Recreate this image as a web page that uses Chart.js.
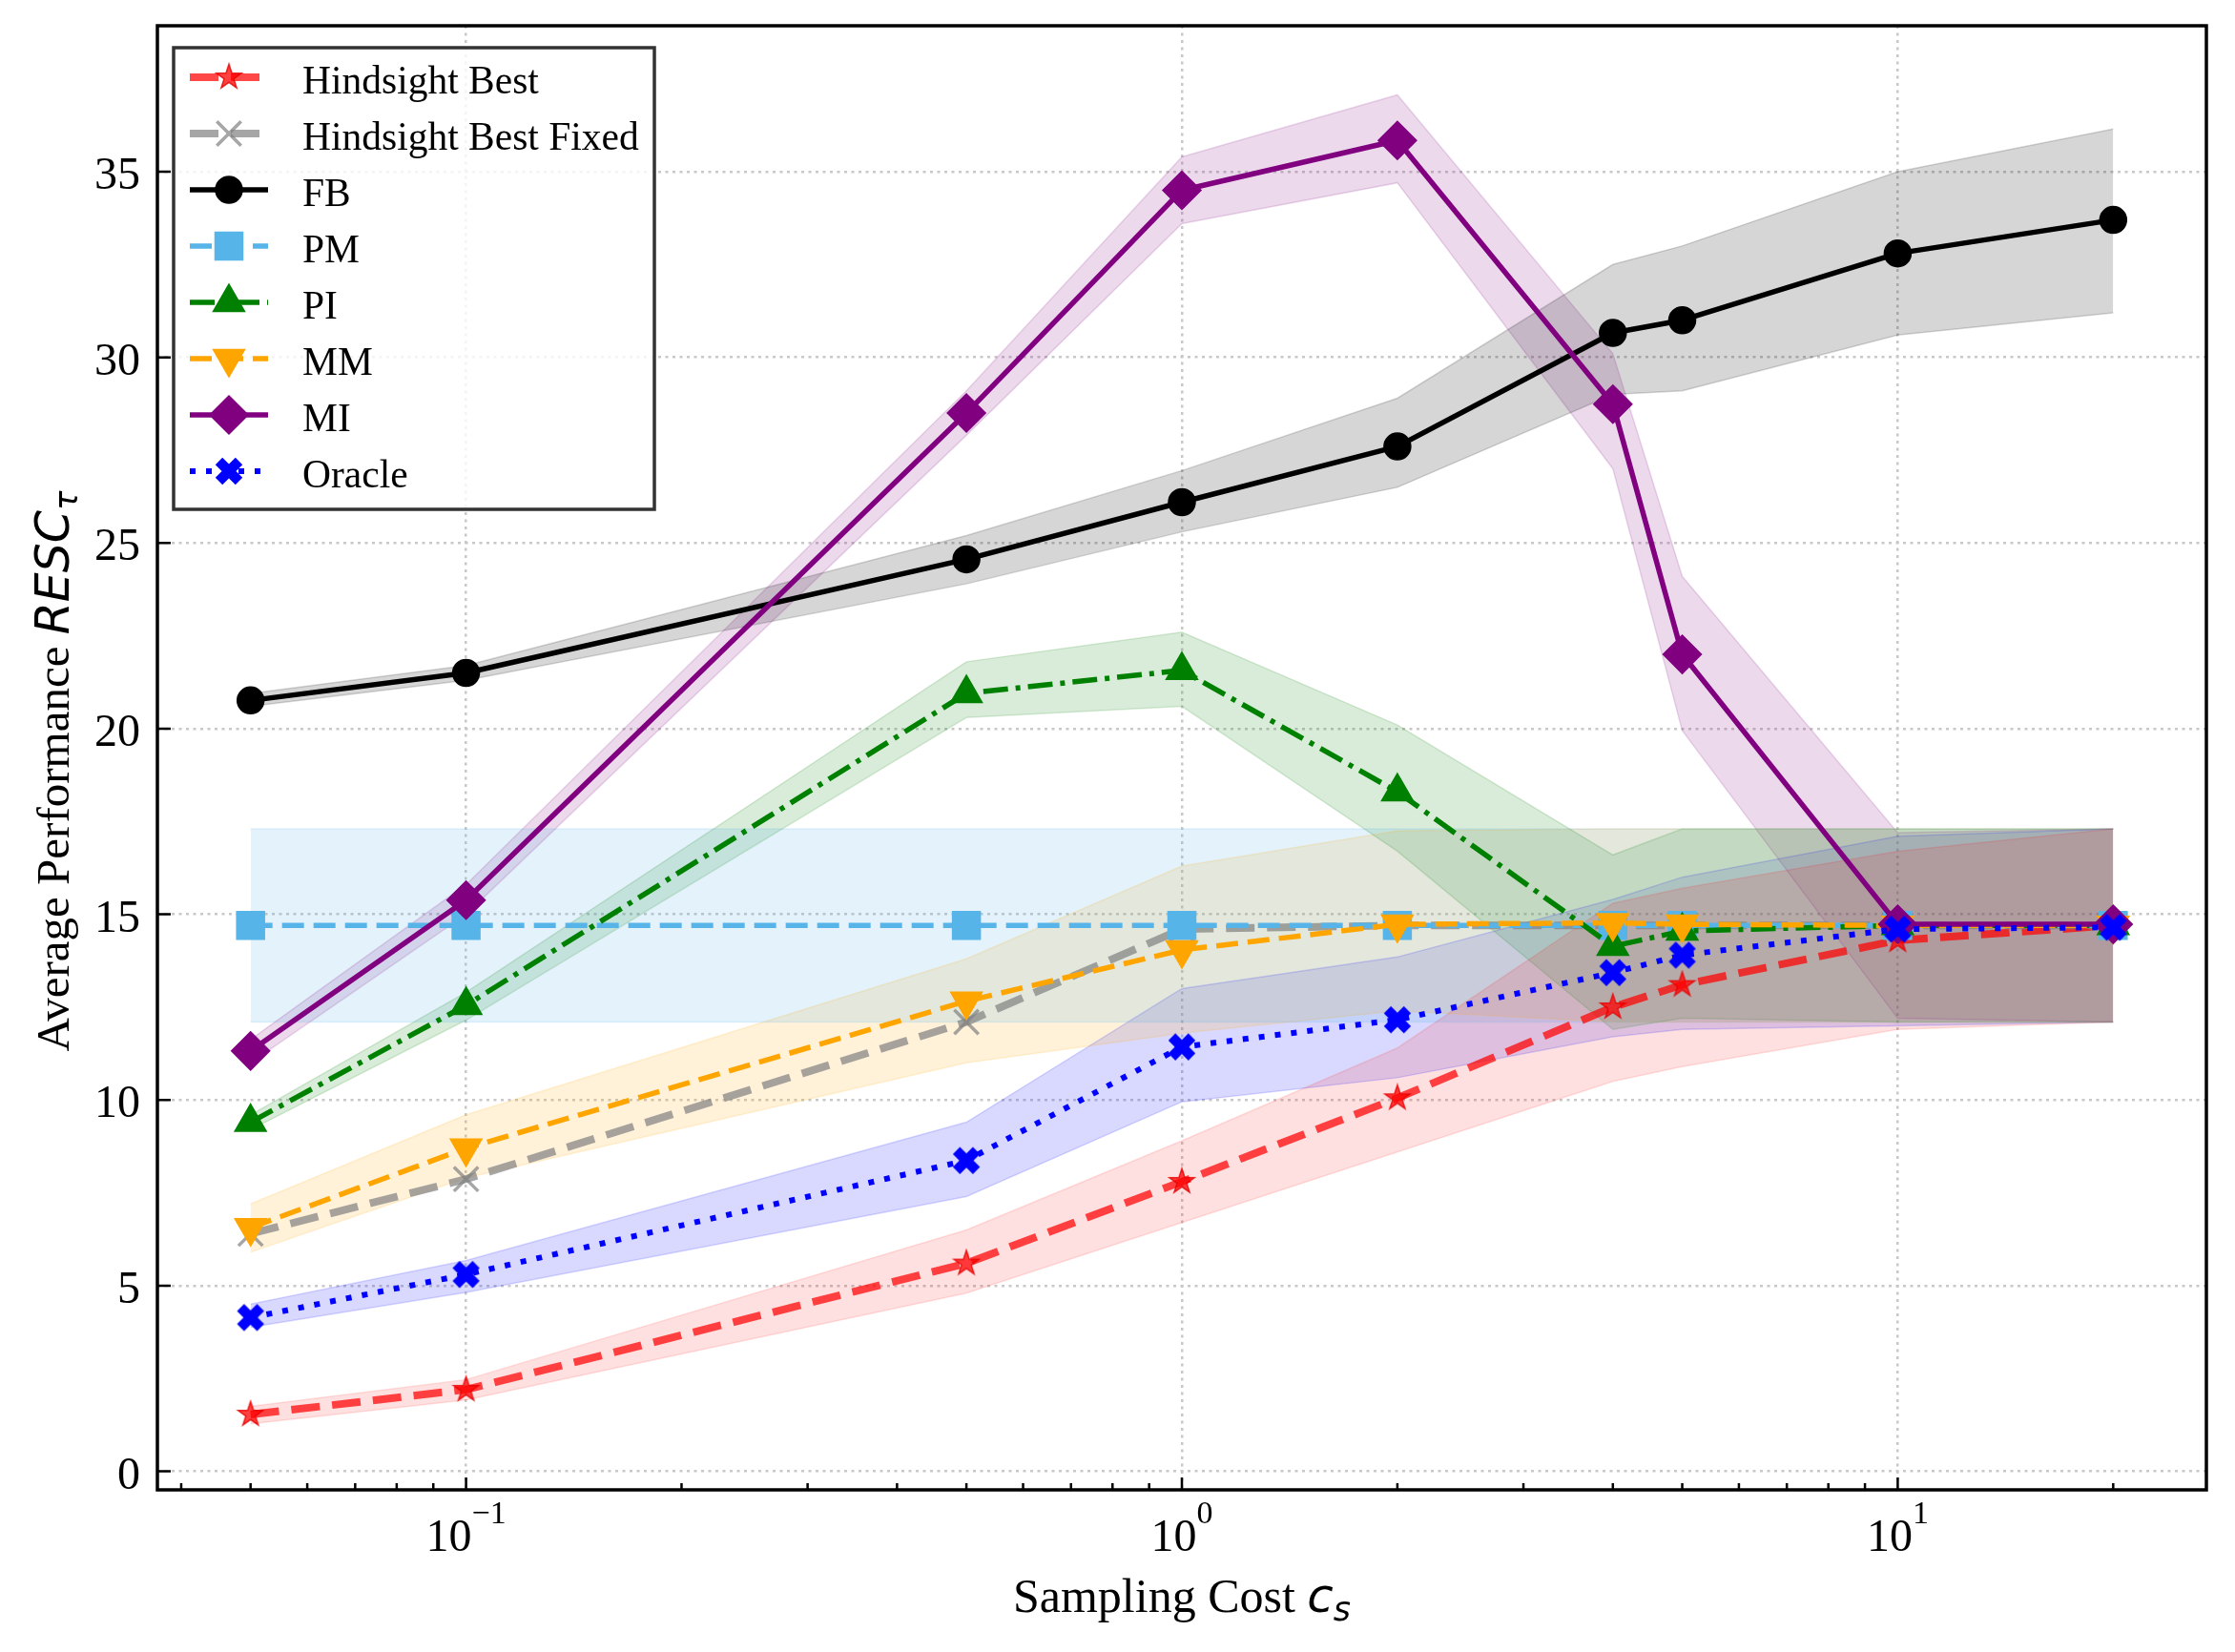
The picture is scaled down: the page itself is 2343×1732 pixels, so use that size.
<!DOCTYPE html>
<html>
<head>
<meta charset="utf-8">
<script src="https://cdn.jsdelivr.net/npm/chart.js@4.4.1/dist/chart.umd.min.js"></script>
<style>
  html, body { margin: 0; padding: 0; background: #fff; }
  canvas { display: block; }
</style>
</head>
<body>
<canvas id="perf-chart" width="2343" height="1732"></canvas>
<script>
// sampling costs (x)
const costs = [0.05, 0.1, 0.5, 1, 2, 4, 5, 10, 20];

// mean values and shaded bands
const hbMean = [1.53, 2.2, 5.6, 7.8, 10.05, 12.5, 13.1, 14.3, 14.7];
const hbLow  = [1.28, 1.92, 4.8, 6.7, 8.6, 10.5, 10.9, 11.9, 12.1];
const hbHigh = [1.75, 2.47, 6.5, 8.9, 11.4, 15.3, 15.7, 16.7, 17.3];

const hbFixedMean = [6.4, 7.87, 12.1, 14.6, 14.7, 14.7, 14.7, 14.7, 14.7];

const fbMean = [20.76, 21.5, 24.56, 26.1, 27.6, 30.66, 31.0, 32.8, 33.7];
const fbLow  = [20.6, 21.3, 23.9, 25.3, 26.5, 29.0, 29.1, 30.6, 31.2];
const fbHigh = [20.95, 21.7, 25.2, 26.95, 28.9, 32.5, 33.0, 35.0, 36.15];

const pmMean = [14.7, 14.7, 14.7, 14.7, 14.7, 14.7, 14.7, 14.7, 14.7];
const pmLow  = [12.1, 12.1, 12.1, 12.1, 12.1, 12.1, 12.1, 12.1, 12.1];
const pmHigh = [17.3, 17.3, 17.3, 17.3, 17.3, 17.3, 17.3, 17.3, 17.3];

const piMean = [9.4, 12.55, 20.95, 21.57, 18.3, 14.14, 14.55, 14.7, 14.7];
const piLow  = [9.2, 12.15, 20.3, 20.6, 16.7, 11.9, 12.2, 12.1, 12.1];
const piHigh = [9.6, 12.9, 21.8, 22.6, 20.1, 16.6, 17.3, 17.3, 17.3];

const mmMean = [6.56, 8.7, 12.66, 14.04, 14.73, 14.77, 14.73, 14.7, 14.7];
const mmLow  = [5.9, 7.9, 11.0, 11.8, 12.4, 12.1, 12.1, 12.1, 12.1];
const mmHigh = [7.2, 9.6, 13.8, 16.3, 17.25, 17.3, 17.3, 17.3, 17.3];

const miMean = [11.32, 15.38, 28.5, 34.5, 35.84, 28.74, 22.0, 14.73, 14.73];
const miLow  = [11.0, 15.0, 27.9, 33.6, 34.7, 27.0, 19.95, 12.2, 12.1];
const miHigh = [11.63, 15.8, 29.1, 35.4, 37.07, 30.1, 24.1, 17.2, 17.3];

const oracleMean = [4.14, 5.3, 8.37, 11.43, 12.16, 13.43, 13.9, 14.6, 14.65];
const oracleLow  = [3.88, 4.82, 7.4, 9.95, 10.6, 11.7, 11.9, 12.0, 12.1];
const oracleHigh = [4.5, 5.68, 9.4, 13.0, 13.85, 15.4, 16.0, 17.1, 17.3];

// axis ticks
const xMajorTicks = [0.1, 1, 10];
const xMinorTicks = [0.04, 0.05, 0.06, 0.07, 0.08, 0.09, 0.2, 0.3, 0.4, 0.5, 0.6, 0.7, 0.8, 0.9,
                     2, 3, 4, 5, 6, 7, 8, 9, 20];
const xTickExponents = ['\u22121', '0', '1'];
const yTickValues = [0, 5, 10, 15, 20, 25, 30, 35];

const SERIF = '"Liberation Serif", "Times New Roman", serif';
const MATH = '"DejaVu Sans", sans-serif';

// custom marker images (filled star and filled X like matplotlib)
function starMarker(fill, edge) {
  const c = document.createElement('canvas');
  c.width = c.height = 32;
  const g = c.getContext('2d');
  g.translate(16, 16);
  g.beginPath();
  for (let i = 0; i < 10; i++) {
    const r = i % 2 ? 5.3 : 13.8;
    const a = -Math.PI / 2 + i * Math.PI / 5;
    g.lineTo(r * Math.cos(a), r * Math.sin(a));
  }
  g.closePath();
  g.fillStyle = fill;
  g.fill();
  g.lineWidth = 1.5;
  g.strokeStyle = edge;
  g.stroke();
  return c;
}

function xMarker(color) {
  const c = document.createElement('canvas');
  c.width = c.height = 34;
  const g = c.getContext('2d');
  g.translate(17, 17);
  g.strokeStyle = color;
  g.lineWidth = 10.5;
  g.beginPath();
  g.moveTo(-10.5, -10.5); g.lineTo(10.5, 10.5);
  g.moveTo(10.5, -10.5); g.lineTo(-10.5, 10.5);
  g.stroke();
  return c;
}

const series = [
  { label: 'Hindsight Best', mean: hbMean, low: hbLow, high: hbHigh,
    color: 'rgba(255,0,0,0.72)', band: 'rgba(255,0,0,0.12)', width: 8, dash: [30, 13],
    marker: starMarker('rgba(255,0,0,0.75)', 'rgba(230,0,0,0.8)'), radius: 14 },
  { label: 'Hindsight Best Fixed', mean: hbFixedMean,
    color: 'rgba(128,128,128,0.7)', width: 8, dash: [30, 13],
    marker: 'crossRot', radius: 18, markerWidth: 3.5 },
  { label: 'FB', mean: fbMean, low: fbLow, high: fbHigh,
    color: '#000000', band: 'rgba(0,0,0,0.16)', width: 5.5, dash: [],
    marker: 'circle', radius: 14 },
  { label: 'PM', mean: pmMean, low: pmLow, high: pmHigh,
    color: '#56B4E9', band: 'rgba(86,180,233,0.17)', width: 5.5, dash: [23, 10],
    marker: 'rect', radius: 20.5 },
  { label: 'PI', mean: piMean, low: piLow, high: piHigh,
    color: '#008000', band: 'rgba(0,128,0,0.15)', width: 5.5, dash: [26, 8, 5, 8],
    marker: 'triangle', radius: 19 },
  { label: 'MM', mean: mmMean, low: mmLow, high: mmHigh,
    color: '#FFA500', band: 'rgba(255,165,0,0.15)', width: 5.5, dash: [23, 10],
    marker: 'triangle', rotation: 180, radius: 19 },
  { label: 'MI', mean: miMean, low: miLow, high: miHigh,
    color: '#800080', band: 'rgba(128,0,128,0.15)', width: 5.5, dash: [],
    marker: 'rectRot', radius: 20 },
  { label: 'Oracle', mean: oracleMean, low: oracleLow, high: oracleHigh,
    color: '#0000FF', band: 'rgba(0,0,255,0.15)', width: 6, dash: [6, 11],
    marker: xMarker('#0000FF'), radius: 15 }
];

const toPoints = vals => costs.map((c, i) => ({ x: c, y: vals[i] }));

let datasets = [];
series.forEach((s, i) => {
  datasets.push({
    label: s.label,
    data: toPoints(s.mean),
    borderColor: s.color,
    borderWidth: s.width,
    borderDash: s.dash,
    borderJoinStyle: 'round',
    pointStyle: s.marker,
    pointRadius: s.radius,
    pointRotation: s.rotation || 0,
    pointBackgroundColor: s.color,
    pointBorderColor: s.color,
    pointBorderWidth: s.markerWidth || 1.5,
    fill: false,
    order: 20 - i
  });
  if (s.low) {
    const lowIdx = datasets.length;
    datasets.push({
      isBand: true,
      data: toPoints(s.low),
      borderColor: s.band,
      borderWidth: 1.5,
      pointRadius: 0,
      pointHitRadius: 0,
      fill: false,
      order: 50
    });
    datasets.push({
      isBand: true,
      data: toPoints(s.high),
      borderColor: s.band,
      backgroundColor: s.band,
      borderWidth: 1.5,
      pointRadius: 0,
      pointHitRadius: 0,
      fill: { target: lowIdx },
      order: 50
    });
  }
});

function drawParts(ctx, parts, x, y) {
  let total = 0;
  parts.forEach(p => { ctx.font = p.font; p.w = ctx.measureText(p.text).width; total += p.w; });
  let cx = x - total / 2;
  parts.forEach(p => {
    ctx.font = p.font;
    ctx.fillText(p.text, cx, y + (p.dy || 0));
    cx += p.w;
  });
}

const decorations = {
  id: 'decorations',
  afterDraw(chart) {
    const { ctx, chartArea: a } = chart;
    const xs = chart.scales.x, ys = chart.scales.y;
    ctx.save();

    // inward ticks
    ctx.strokeStyle = '#000';
    ctx.lineWidth = 2.5;
    ctx.beginPath();
    yTickValues.forEach(v => {
      const py = ys.getPixelForValue(v);
      ctx.moveTo(a.left, py); ctx.lineTo(a.left + 14, py);
    });
    xMajorTicks.forEach(v => {
      const px = xs.getPixelForValue(v);
      ctx.moveTo(px, a.bottom); ctx.lineTo(px, a.bottom - 13);
    });
    xMinorTicks.forEach(v => {
      const px = xs.getPixelForValue(v);
      ctx.moveTo(px, a.bottom); ctx.lineTo(px, a.bottom - 7);
    });
    ctx.stroke();

    // frame
    ctx.lineWidth = 3.5;
    ctx.strokeRect(a.left, a.top, a.right - a.left, a.bottom - a.top);

    // y tick labels
    ctx.fillStyle = '#000';
    ctx.textBaseline = 'alphabetic';
    ctx.textAlign = 'right';
    ctx.font = '48px ' + SERIF;
    yTickValues.forEach(v => {
      ctx.fillText(String(v), a.left - 18, ys.getPixelForValue(v) + 18);
    });

    // x tick labels 10^k
    ctx.textAlign = 'left';
    xMajorTicks.forEach((v, i) => {
      const px = xs.getPixelForValue(v);
      drawParts(ctx, [
        { text: '10', font: '48px ' + SERIF },
        { text: xTickExponents[i], font: '34px ' + SERIF, dy: -29 }
      ], px, a.bottom + 64);
    });

    // x axis title
    drawParts(ctx, [
      { text: 'Sampling Cost ', font: '50px ' + SERIF },
      { text: 'c', font: 'italic 50px ' + MATH },
      { text: 's', font: 'italic 35px ' + MATH, dy: 9 }
    ], (a.left + a.right) / 2, a.bottom + 128);

    // y axis title
    ctx.save();
    ctx.translate(72, (a.top + a.bottom) / 2 + 14);
    ctx.rotate(-Math.PI / 2);
    drawParts(ctx, [
      { text: 'Average Performance ', font: '49px ' + SERIF },
      { text: 'RESC', font: 'italic 49px ' + MATH },
      { text: '\u03C4', font: 'italic 34px ' + MATH, dy: 9 }
    ], 0, 0);
    ctx.restore();

    // legend
    const lx = a.left + 17, ly = a.top + 23, lw = 504, lh = 484;
    ctx.fillStyle = 'rgba(255,255,255,0.8)';
    ctx.fillRect(lx, ly, lw, lh);
    ctx.strokeStyle = '#333';
    ctx.lineWidth = 3.5;
    ctx.strokeRect(lx, ly, lw, lh);
    const mains = chart.data.datasets.filter(d => !d.isBand);
    mains.forEach((d, i) => {
      const yy = ly + 31 + i * 59;
      ctx.save();
      ctx.strokeStyle = d.borderColor;
      ctx.lineWidth = d.borderWidth;
      ctx.setLineDash(d.borderDash || []);
      ctx.beginPath();
      ctx.moveTo(lx + 17, yy); ctx.lineTo(lx + 99, yy);
      ctx.stroke();
      ctx.restore();
      ctx.fillStyle = d.pointBackgroundColor;
      ctx.strokeStyle = d.pointBorderColor;
      ctx.lineWidth = d.pointBorderWidth;
      Chart.helpers.drawPoint(ctx, {
        pointStyle: d.pointStyle, rotation: d.pointRotation, radius: d.pointRadius,
        borderWidth: d.pointBorderWidth
      }, lx + 58, yy);
      ctx.fillStyle = '#000';
      ctx.font = '41.5px ' + SERIF;
      ctx.textAlign = 'left';
      ctx.textBaseline = 'alphabetic';
      ctx.fillText(d.label, lx + 135, yy + 17);
    });
    ctx.restore();
  }
};

const ctx = document.getElementById('perf-chart').getContext('2d');
new Chart(ctx, {
  type: 'line',
  data: { datasets: datasets },
  plugins: [decorations],
  options: {
    responsive: false,
    animation: false,
    devicePixelRatio: 1,
    layout: { padding: { left: 165, top: 27, right: 30, bottom: 170 } },
    plugins: {
      legend: { display: false },
      tooltip: { enabled: false },
      filler: { drawTime: 'beforeDatasetsDraw' }
    },
    scales: {
      x: {
        type: 'logarithmic',
        min: Math.pow(10, -1.4312),
        max: Math.pow(10, 1.4312),
        afterBuildTicks: axis => { axis.ticks = xMajorTicks.map(v => ({ value: v })); },
        ticks: { display: false },
        grid: { color: '#c8c8c8', lineWidth: 2.5, drawTicks: false },
        border: { display: false, dash: [3, 4.5] }
      },
      y: {
        type: 'linear',
        min: -0.5,
        max: 38.93,
        afterBuildTicks: axis => { axis.ticks = yTickValues.map(v => ({ value: v })); },
        ticks: { display: false },
        grid: { color: '#c8c8c8', lineWidth: 2.5, drawTicks: false },
        border: { display: false, dash: [3, 4.5] }
      }
    }
  }
});
</script>
</body>
</html>
